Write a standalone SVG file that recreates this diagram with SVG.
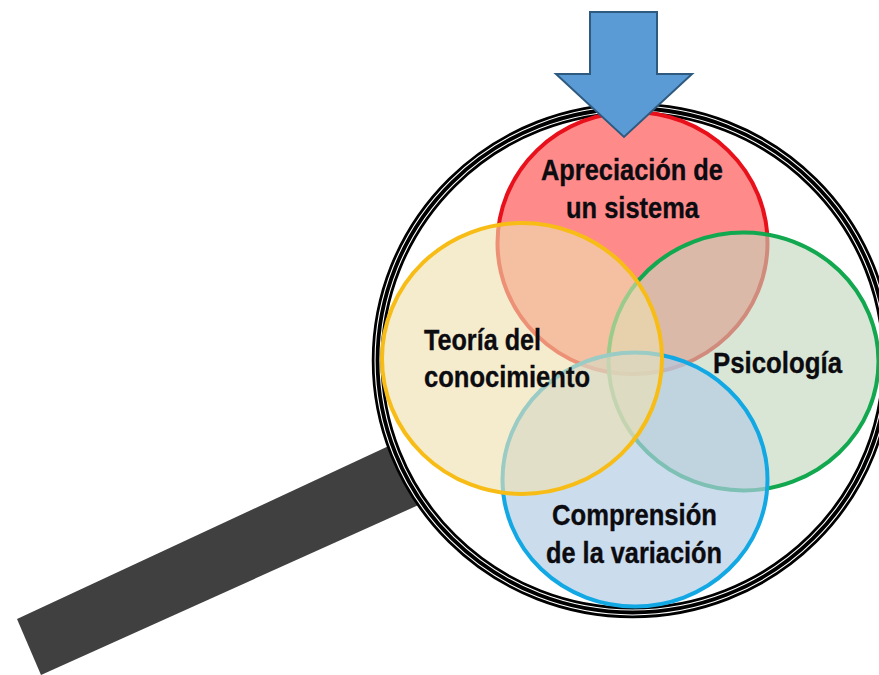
<svg xmlns="http://www.w3.org/2000/svg" width="879" height="675" viewBox="0 0 879 675">
<style>
text{font-family:"Liberation Sans",Arial,sans-serif;font-weight:700;font-size:30px;fill:#0b0b10;stroke:#0b0b10;stroke-width:.35;text-anchor:start}
.c{stroke-width:4}
</style>
<rect width="879" height="675" fill="#fff"/>
<g id="handle"><polygon points="17,619 393,444 423,503 41,675" fill="#404040"/></g>
<g id="lens">
<ellipse cx="632.500" cy="360.500" rx="255" ry="252" fill="#fff" stroke="#000" stroke-width="11.500"/>
<ellipse cx="632.500" cy="360.500" rx="255" ry="252" fill="none" stroke="#fff" stroke-width="6"/>
<ellipse cx="632.500" cy="360.500" rx="255" ry="252" fill="none" stroke="#000" stroke-width="3.800"/>
</g>
<g id="apreciacion">
<ellipse class="c" cx="632.500" cy="243" rx="135" ry="131" fill="#ff8a8a" stroke="#e8101a"/>
</g>
<g id="psicologia">
<ellipse class="c" cx="743.500" cy="361.500" rx="135" ry="129" fill="#c4d6bc" fill-opacity=".62" stroke="#11a84f"/>
</g>
<g id="comprension">
<ellipse class="c" cx="635" cy="479.500" rx="132.500" ry="127" fill="#b3cbe3" fill-opacity=".68" stroke="#12a8e4"/>
</g>
<g id="teoria">
<ellipse class="c" cx="522" cy="358.500" rx="140" ry="135.500" fill="#efe0b0" fill-opacity=".62" stroke="#f7bd16"/>
</g>
<g id="arrow"><polygon points="590,12 657,12 657,74 692,74 624,137 556,74 590,74" fill="#5b9bd5" stroke="#2f5a80" stroke-width="2"/></g>
<g id="labels">
<text x="541" y="180" textLength="182" lengthAdjust="spacingAndGlyphs">Apreciación de</text>
<text x="566" y="218" textLength="133" lengthAdjust="spacingAndGlyphs">un sistema</text>
<text x="424" y="350" textLength="117" lengthAdjust="spacingAndGlyphs">Teoría del</text>
<text x="424" y="387" textLength="166" lengthAdjust="spacingAndGlyphs">conocimiento</text>
<text x="713" y="373" textLength="129" lengthAdjust="spacingAndGlyphs">Psicología</text>
<text x="552" y="525" textLength="165" lengthAdjust="spacingAndGlyphs">Comprensión</text>
<text x="546" y="563" textLength="176" lengthAdjust="spacingAndGlyphs">de la variación</text>
</g>
</svg>
